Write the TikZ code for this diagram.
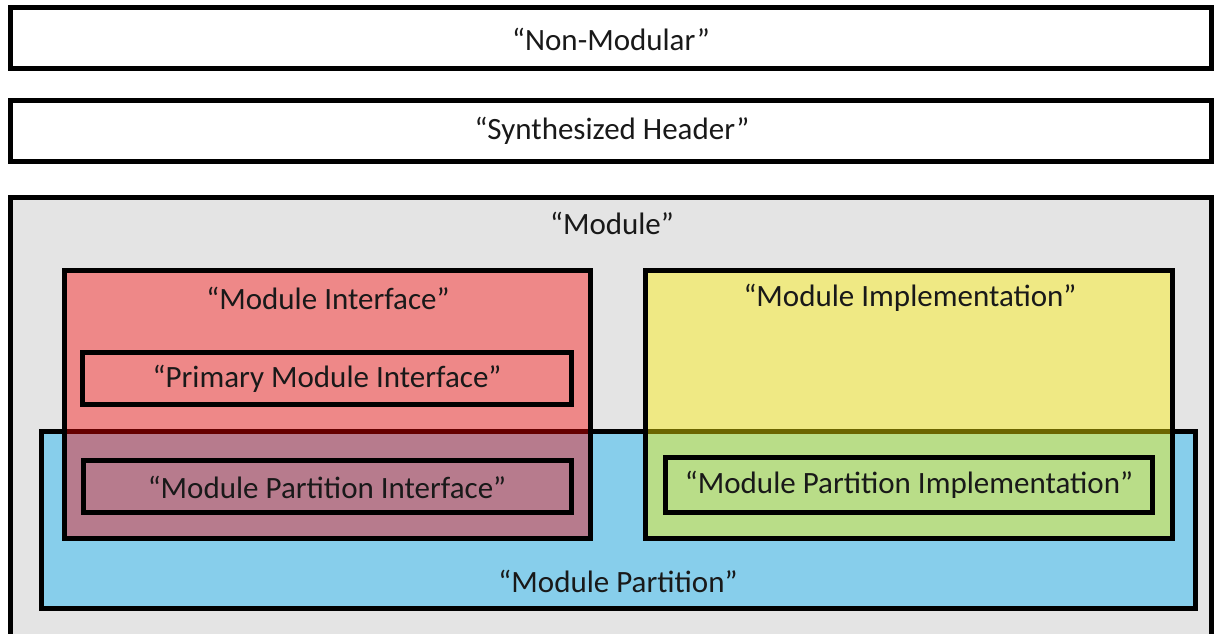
\documentclass[tikz,border=0pt]{standalone}
\usepackage{fontspec}
\setmainfont{Carlito}
\definecolor{modgray}{RGB}{228,228,228}
\definecolor{partblue}{RGB}{135,206,235}
\begin{document}
\begin{tikzpicture}[x=1pt,y=-1pt,
  box/.style={draw=black,line width=5pt},
  lbl/.style={font=\fontsize{31}{34}\selectfont, inner sep=0pt, text=black!90}]
\useasboundingbox (0,0) rectangle (1216,634);
\begin{scope}
\clip (0,0) rectangle (1216,634);
\fill[white] (0,0) rectangle (1216,634);
% outer rows
\draw[box] (10,8) rectangle (1211,69);
\node[lbl] (nonmod) at (611,39) {“Non-Modular”};
\draw[box] (10,100) rectangle (1211,161);
\node[lbl] (synth) at (612,131) {“Synthesized Header”};
% module
\draw[box, fill=modgray] (10,197) rectangle (1211,660);
\node[lbl] (module) at (612,223) {“Module”};
% partition (opaque blue)
\draw[box, fill=partblue] (41.5,431) rectangle (1195,608);
% interface and implementation (translucent)
\draw[box, fill=red, fill opacity=0.4] (64.5,270.5) rectangle (590.5,538);
\draw[box, fill=yellow, fill opacity=0.42] (645.5,270.5) rectangle (1172.5,538);
% inner boxes
\draw[box] (82.5,352.5) rectangle (571.5,404.5);
\draw[box] (83.5,460.5) rectangle (571.5,512);
\draw[box] (665.5,457.5) rectangle (1152,512.5);
% labels
\node[lbl] (iface) at (328,298) {“Module Interface”};
\node[lbl] (impl) at (910,298) {“Module Implementation”};
\node[lbl] (primary) at (327,379) {“Primary Module Interface”};
\node[lbl] (partiface) at (327,487) {“Module Partition Interface”};
\node[lbl] (partimpl) at (909,485) {“Module Partition Implementation”};
\node[lbl] (partition) at (618,581) {“Module Partition”};
\end{scope}
\end{tikzpicture}
\end{document}
